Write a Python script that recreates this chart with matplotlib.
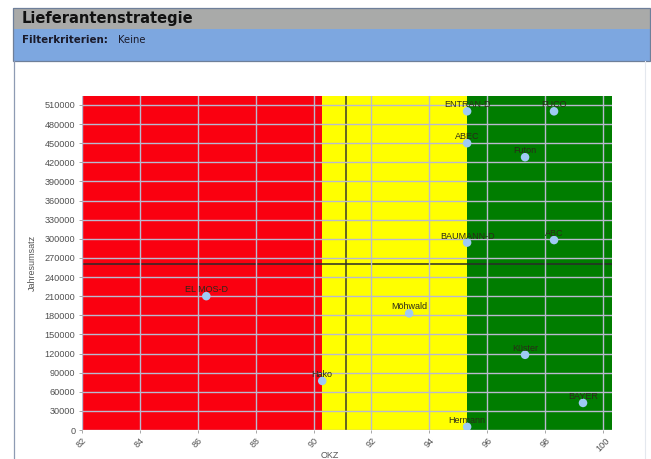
import matplotlib
matplotlib.use("Agg")
import matplotlib.pyplot as plt
from matplotlib.patches import Rectangle
from matplotlib.lines import Line2D

# ---- data ----
suppliers = ["EL MOS-D", "Hako", "Möhwald", "Hermann", "ENTRAN-D", "ABEC",
             "BAUMANN-D", "FUCO", "Futon", "ABC", "Küster", "BAYER"]
okz = [86.3, 90.3, 93.3, 95.3, 95.3, 95.3, 95.3, 98.3, 97.3, 98.3, 97.3, 99.3]
umsatz = [210000, 77000, 183000, 5000, 500000, 450000, 294000, 500000,
          428000, 298000, 118000, 42500]
x_ticks = [82, 84, 86, 88, 90, 92, 94, 96, 98, 100]
y_ticks = list(range(0, 510001, 30000))
red_limit = 90.3
green_limit = 95.28
avg_okz = 91.12
avg_umsatz = 261000
x_range = (82, 100.29)
y_range = (0, 524000)

W, H = 651, 459
fig = plt.figure(figsize=(W / 100, H / 100), dpi=100)
fig.patch.set_facecolor("white")


def fx(px):
    return px / W


def fy(py):
    return 1 - py / H


def rect(x0, y0, x1, y1, **kw):
    fig.add_artist(Rectangle((fx(x0), fy(y1)), fx(x1) - fx(x0), fy(y0) - fy(y1),
                             transform=fig.transFigure, **kw))


# header bands
rect(13, 7.5, 650, 29, facecolor="#a9aaa9", edgecolor="none")
rect(13, 29, 650, 61, facecolor="#7da7e0", edgecolor="none")
rect(13, 7.5, 650, 61, facecolor="none", edgecolor="#6e7f99", linewidth=0.9)
fig.add_artist(Line2D([fx(13.5), fx(13.5)], [fy(61), fy(459)], color="#8e9bb3",
                      linewidth=0.9, transform=fig.transFigure))
fig.add_artist(Line2D([fx(645), fx(645)], [fy(61), fy(459)], color="#e4e8ee",
                      linewidth=0.8, transform=fig.transFigure))

fig.text(fx(22), fy(18.5), "Lieferantenstrategie", fontsize=10.5, fontweight="bold",
         color="#111111", va="center", ha="left", family="DejaVu Sans")
fig.text(fx(22), fy(40), "Filterkriterien:", fontsize=7.4, fontweight="bold",
         color="#1a1a2a", va="center", ha="left", family="DejaVu Sans")
fig.text(fx(118), fy(40), "Keine", fontsize=7.2, color="#1a1a2a", va="center",
         ha="left", family="DejaVu Sans")

# axes
ax = fig.add_axes([fx(81.7), fy(430), fx(611.7) - fx(81.7), fy(96) - fy(430)])
ax.set_xlim(*x_range)
ax.set_ylim(*y_range)

ax.axvspan(x_range[0], red_limit, facecolor="#fa0010", edgecolor="none", zorder=0)
ax.axvspan(red_limit, green_limit, facecolor="#ffff00", edgecolor="none", zorder=0)
ax.axvspan(green_limit, x_range[1], facecolor="#007d00", edgecolor="none", zorder=0)

ax.set_xticks(x_ticks)
ax.set_yticks(y_ticks)
ax.set_xticklabels([str(v) for v in x_ticks], rotation=45, ha="center", va="top")
ax.set_yticklabels([str(v) for v in y_ticks])
ax.tick_params(axis="both", labelsize=6.6, labelcolor="#505050", color="#999999",
               length=2.5, width=0.6, pad=2)
for lab in ax.get_xticklabels() + ax.get_yticklabels():
    lab.set_family("Liberation Sans")

ax.grid(True, color="#b9b9cf", linewidth=1.0, zorder=1)
ax.set_axisbelow(False)
for s in ax.spines.values():
    s.set_visible(False)

ax.axvline(avg_okz, color="#3a3a2a", linewidth=1.1, zorder=2)
ax.axhline(avg_umsatz, color="#2a2a2a", linewidth=1.1, zorder=2)

ax.scatter(okz, umsatz, s=38, color="#9fcaf4", edgecolors="none", zorder=4)
for name, x, y in zip(suppliers, okz, umsatz):
    ax.annotate(name, (x, y), xytext=(0, 1.5), textcoords="offset points",
                ha="center", va="bottom", fontsize=6.5, color="#2a2a1a",
                family="Liberation Sans", zorder=5)

fig.text(fx(28), fy(263), "Jahresumsatz", rotation=90, fontsize=6.5,
         color="#555555", ha="left", va="center", family="Liberation Sans")
fig.text(fx(330), fy(456), "OKZ", fontsize=6.5, color="#555555", ha="center",
         va="center", family="Liberation Sans")

fig.savefig("out.png", dpi=100)
